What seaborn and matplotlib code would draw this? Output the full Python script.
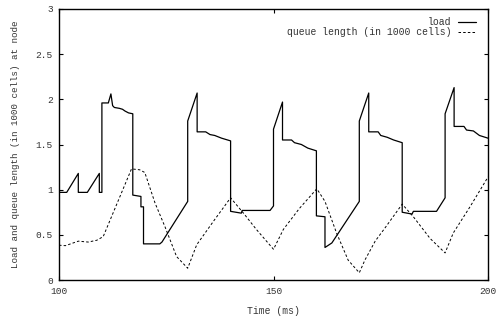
import matplotlib
matplotlib.use("Agg")
import matplotlib.pyplot as plt
import seaborn as sns
import pandas as pd

# Load at the node (in 1000 cells) over time
load_t = [100.0, 101.8, 104.5, 104.5, 106.6, 109.4, 109.4, 110.0, 110.0, 111.5, 112.1, 112.5,
          112.9, 114.1, 114.8, 115.4, 116.2, 117.2, 117.2, 119.1, 119.1, 119.7, 119.7, 123.5,
          124.0, 130.0, 130.0, 132.2, 132.2, 134.2, 135.2, 136.3, 137.9, 140.0, 140.0, 142.5,
          142.7, 149.2, 150.0, 150.0, 152.1, 152.1, 154.2, 154.9, 156.5, 158.0, 160.0, 160.0,
          162.0, 162.0, 163.6, 170.0, 170.0, 172.2, 172.2, 174.4, 175.0, 176.5, 178.0, 180.0,
          180.0, 182.3, 182.6, 188.0, 190.0, 190.0, 192.1, 192.1, 194.4, 195.0, 196.6, 198.0,
          200.0]
load_v = [0.97, 0.97, 1.18, 0.97, 0.97, 1.18, 0.97, 0.97, 1.96, 1.96, 2.06, 1.93,
          1.91, 1.90, 1.89, 1.87, 1.85, 1.84, 0.94, 0.925, 0.81, 0.81, 0.40, 0.40,
          0.42, 0.87, 1.76, 2.07, 1.64, 1.64, 1.61, 1.60, 1.57, 1.54, 0.76, 0.74,
          0.77, 0.77, 0.82, 1.67, 1.97, 1.55, 1.55, 1.52, 1.50, 1.46, 1.43, 0.71,
          0.70, 0.36, 0.41, 0.87, 1.76, 2.07, 1.64, 1.64, 1.60, 1.58, 1.55, 1.52,
          0.75, 0.73, 0.76, 0.76, 0.91, 1.84, 2.13, 1.70, 1.70, 1.66, 1.65, 1.60,
          1.57]

# Queue length (in 1000 cells) over time
queue_t = [100.0, 101.5, 104.5, 106.8, 108.8, 110.3, 116.9, 118.8, 120.0, 122.4, 124.7,
           127.4, 130.0, 132.1, 136.0, 140.0, 143.0, 146.0, 150.0, 152.3, 156.0, 160.1,
           162.0, 164.7, 167.4, 170.0, 171.3, 173.7, 176.2, 180.0, 182.6, 186.5, 190.0,
           191.9, 195.8, 200.0]
queue_v = [0.385, 0.38, 0.43, 0.42, 0.44, 0.48, 1.23, 1.22, 1.19, 0.85, 0.59,
           0.26, 0.13, 0.39, 0.65, 0.91, 0.74, 0.56, 0.34, 0.56, 0.79, 1.01,
           0.87, 0.52, 0.22, 0.08, 0.22, 0.43, 0.59, 0.84, 0.70, 0.46, 0.30,
           0.52, 0.81, 1.14]

x_ticks = [100, 150, 200]
y_ticks = [0, 0.5, 1, 1.5, 2, 2.5, 3]
y_tick_labels = ["0", "0.5", "1", "1.5", "2", "2.5", "3"]

sns.set_style("ticks")
plt.rcParams["font.family"] = ["Liberation Mono", "DejaVu Sans Mono"]

fs = 7.0
text_color = "#333333"
fig = plt.figure(figsize=(4.96, 3.2), dpi=100)
ax = fig.add_axes([59 / 496, 1 - 280 / 320, (488 - 59) / 496, (280 - 9) / 320])

load_df = pd.DataFrame({"t": load_t, "v": load_v})
queue_df = pd.DataFrame({"t": queue_t, "v": queue_v})

sns.lineplot(data=load_df, x="t", y="v", estimator=None, sort=False, ax=ax,
             color="black", linewidth=0.9, label="load")
sns.lineplot(data=queue_df, x="t", y="v", estimator=None, sort=False, ax=ax,
             color="black", linewidth=0.7, dashes=False, label="queue length (in 1000 cells)")
ax.lines[1].set_dashes((2.6, 2.2))

ax.set_xlim(100, 200)
ax.set_ylim(0, 3)
ax.set_xticks(x_ticks)
ax.set_xticklabels([str(v) for v in x_ticks])
ax.set_yticks(y_ticks)
ax.set_yticklabels(y_tick_labels)
ax.tick_params(direction="in", length=3.2, width=0.8, top=True, right=True,
               labelsize=6.8, labelcolor=text_color, color="black")
ax.tick_params(axis="x", pad=5)
ax.tick_params(axis="y", pad=4.3)
for s in ax.spines.values():
    s.set_visible(True)
    s.set_linewidth(1.0)
    s.set_color("black")

ax.set_xlabel("Time (ms)", fontsize=fs, color=text_color, labelpad=7)
ax.set_ylabel("Load and queue length (in 1000 cells) at node", fontsize=6.6,
              color=text_color, labelpad=11.5)

leg = ax.legend(loc="upper right", bbox_to_anchor=(0.988, 0.995), frameon=False,
                markerfirst=False, fontsize=fs, handlelength=1.9, handletextpad=0.6,
                labelspacing=0.0, borderpad=0.2)
for t in leg.get_texts():
    t.set_color(text_color)

fig.savefig("out.png", dpi=100)
